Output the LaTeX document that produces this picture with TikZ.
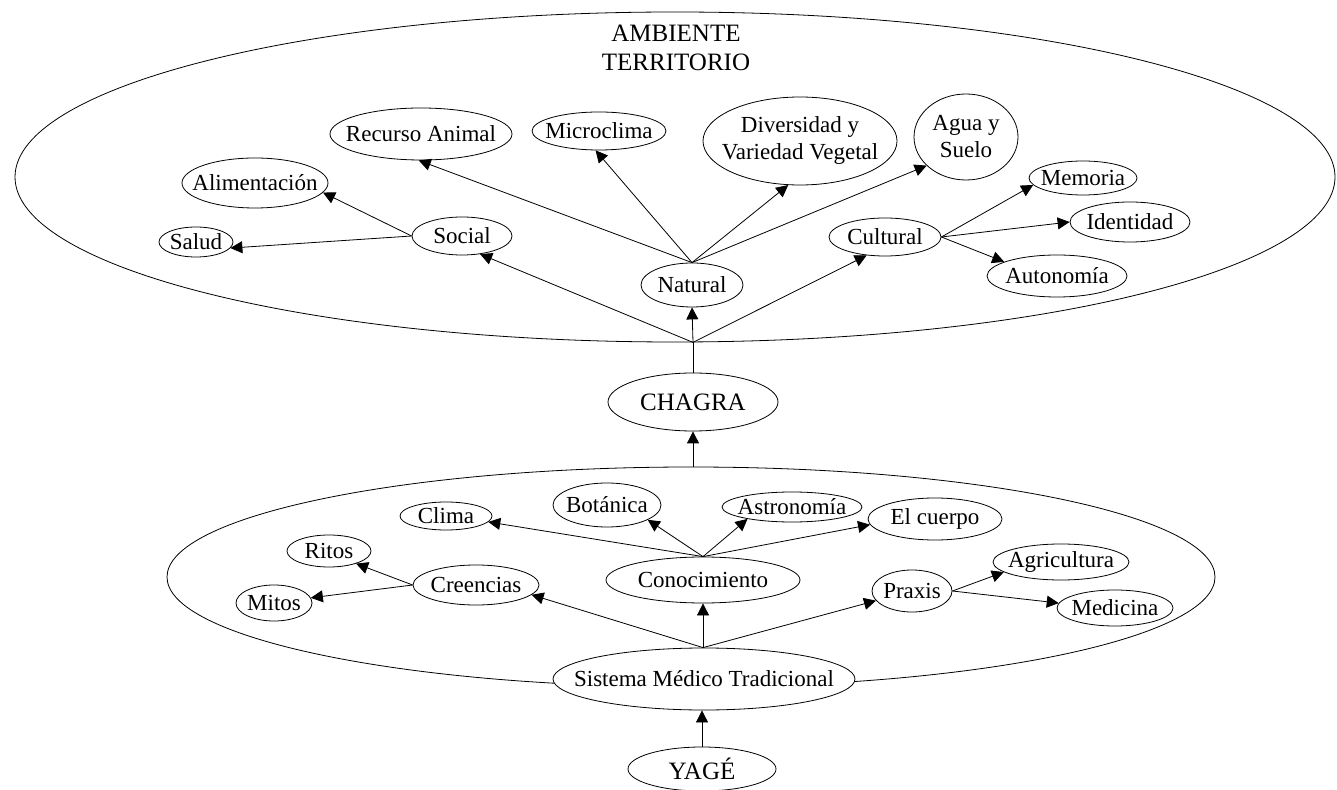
\documentclass[tikz,border=0pt]{standalone}
\usepackage{fontspec}
\setmainfont{Liberation Serif}
\usetikzlibrary{shapes.geometric,arrows.meta}
\tikzset{x=0.5pt, y=-0.5pt, line width=0.7pt,
  zone/.style={draw, ellipse, inner sep=-200pt},
  oval/.style={draw, ellipse, fill=white, inner sep=-60pt, align=center,
    font=\fontsize{11.5}{13.5}\selectfont},
  big/.style={oval, font=\fontsize{12.5}{14.5}\selectfont},
  sz/.style 2 args={minimum width=#1pt, minimum height=#2pt},
  arr/.style={-{Triangle[length=6pt,width=6pt]}}}

\begin{document}
\begin{tikzpicture}
  \useasboundingbox (0,0) rectangle (1337,790);
  % the two regions
  \node (amb) [zone, sz={660}{165}] at (675,177) {};
  \node (sis) [zone, sz={524}{110}] at (691,577) {};
  \node (title) [align=center, font=\fontsize{12.5}{14.5}\selectfont] at (676,48) {AMBIENTE\\TERRITORIO};

  % upper part
  \node (ra) [oval, sz={91}{26}] at (421,134) {Recurso Animal};
  \node (mc) [oval, sz={67}{19}] at (599,131) {Microclima};
  \node (dv) [oval, sz={97}{44}] at (800,141) {Diversidad y\\Variedad Vegetal};
  \node (as) [oval, sz={52}{43}] at (966,137) {Agua y\\Suelo};
  \node (al) [oval, sz={73}{25}] at (255,183) {Alimentación};
  \node (sa) [oval, sz={37}{15}] at (196,242) {Salud};
  \node (so) [oval, sz={50}{19}] at (462,236) {Social};
  \node (nt) [oval, sz={51}{22}] at (692,285) {Natural};
  \node (cu) [oval, sz={56}{19}] at (885,237) {Cultural};
  \node (me) [oval, sz={54}{17}] at (1083,178) {Memoria};
  \node (id) [oval, sz={60}{20}] at (1130,222) {Identidad};
  \node (au) [oval, sz={70}{21}] at (1057,276) {Autonomía};
  \node (ch) [big, sz={85}{29}] at (693,402) {CHAGRA};

  % lower part
  \node (cl) [oval, sz={46}{14}] at (446,516) {Clima};
  \node (bo) [oval, sz={54}{22}] at (607,505) {Botánica};
  \node (ast) [oval, sz={70}{15}] at (792,507) {Astronomía};
  \node (ec) [oval, sz={67}{21}] at (935,519) {El cuerpo};
  \node (co) [oval, sz={97}{23}] at (703,580) {Conocimiento};
  \node (cr) [oval, sz={63}{20}] at (476,585) {Creencias};
  \node (ri) [oval, sz={42}{16}] at (329,551) {Ritos};
  \node (mi) [oval, sz={38}{18}] at (274,603) {Mitos};
  \node (px) [oval, sz={40}{21}] at (912,591) {Praxis};
  \node (ag) [oval, sz={68}{18}] at (1061,562) {Agricultura};
  \node (md) [oval, sz={58}{18}] at (1115,608) {Medicina};
  \node (smt) [oval, sz={151}{31}] at (704,679) {Sistema Médico Tradicional};
  \node (yg) [big, sz={74}{22}] at (702,769) {YAGÉ};

  \coordinate (f0) at (ch.south |- sis.north);
  \coordinate (f1) at (ch.north |- amb.south);
  \coordinate (f2) at (co.south |- smt.north);

  \draw[arr] (yg.north) -- (yg.north |- smt.south);
  \draw[arr] (f2) -- (cr.-10);
  \draw[arr] (f2) -- (co.south);
  \draw[arr] (f2) -- (px.195);
  \draw[arr] (co.north) -- (cl.-8);
  \draw[arr] (co.north) -- (bo.-20);
  \draw[arr] (co.north) -- (ast.-165);
  \draw[arr] (co.north) -- (ec.185);
  \draw[arr] (cr.west) -- (ri.-25);
  \draw[arr] (cr.west) -- (mi.8);
  \draw[arr] (px.east) -- (ag.190);
  \draw[arr] (px.east) -- (md.175);
  \draw[arr] (f0) -- (ch.south);
  \draw (ch.north) -- (f1);
  \draw[arr] (f1) -- (so.-45);
  \draw[arr] (f1) -- (nt.south);
  \draw[arr] (f1) -- (cu.-135);
  \draw[arr] (so.west) -- (al.-8);
  \draw[arr] (so.west) -- (sa.-10);
  \draw[arr] (nt.north) -- (ra.-95);
  \draw[arr] (nt.north) -- (mc.-100);
  \draw[arr] (nt.north) -- (dv.-105);
  \draw[arr] (nt.north) -- (as.216);
  \draw[arr] (cu.east) -- (me.188);
  \draw[arr] (cu.east) -- (id.west);
  \draw[arr] (cu.east) -- (au.165);
\end{tikzpicture}
\end{document}
